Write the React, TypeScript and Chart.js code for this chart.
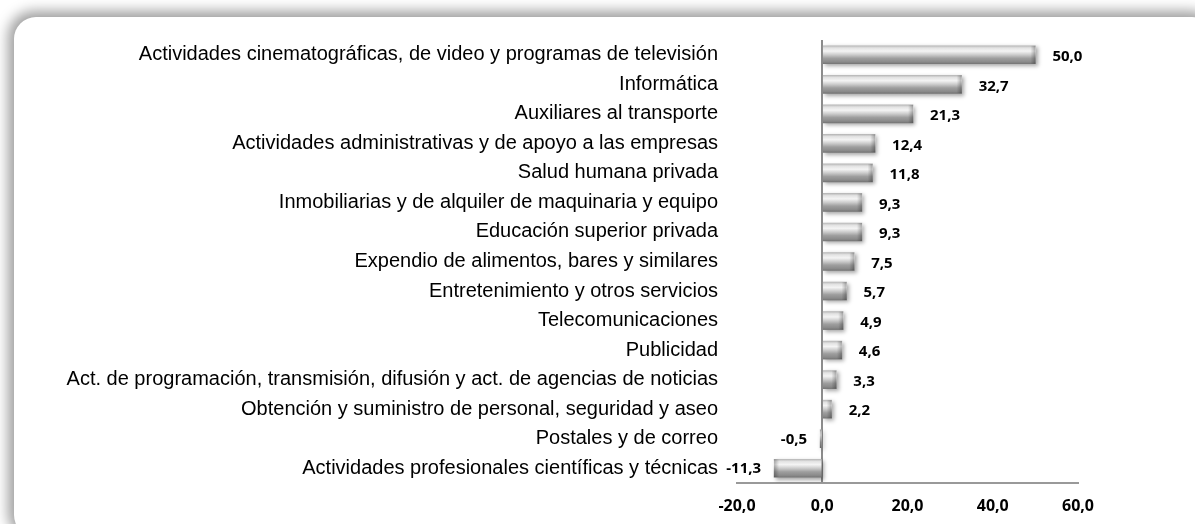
import React, { useEffect, useRef } from "react";
import { Chart, registerables } from "chart.js";

Chart.register(...registerables);

const categories: string[] = [
  "Actividades cinematográficas, de video y programas de televisión",
  "Informática",
  "Auxiliares al transporte",
  "Actividades administrativas y de apoyo a las empresas",
  "Salud humana privada",
  "Inmobiliarias y de alquiler de maquinaria y equipo",
  "Educación superior privada",
  "Expendio de alimentos, bares y similares",
  "Entretenimiento y otros servicios",
  "Telecomunicaciones",
  "Publicidad",
  "Act. de programación, transmisión, difusión y act. de agencias de noticias",
  "Obtención y suministro de personal, seguridad y aseo",
  "Postales y de correo",
  "Actividades profesionales científicas y técnicas",
];

const values: number[] = [50.0, 32.7, 21.3, 12.4, 11.8, 9.3, 9.3, 7.5, 5.7, 4.9, 4.6, 3.3, 2.2, -0.5, -11.3];

const xTicks: number[] = [-20, 0, 20, 40, 60];

const fmt = (v: number) => v.toFixed(1).replace(".", ",");

const BAR_H = 18;

const shadowPlugin = {
  id: "barShadow",
  beforeDatasetsDraw(chart: any) {
    const ctx = chart.ctx;
    ctx.save();
    ctx.shadowColor = "rgba(0,0,0,0.35)";
    ctx.shadowBlur = 4;
    ctx.shadowOffsetX = 2;
    ctx.shadowOffsetY = 2;
  },
  afterDatasetsDraw(chart: any) {
    const ctx = chart.ctx;
    ctx.restore();
    const meta = chart.getDatasetMeta(0);
    ctx.save();
    // bevel at the bar ends
    meta.data.forEach((bar: any) => {
      const w = Math.abs(bar.x - bar.base);
      const bw = Math.min(5, w);
      if (bw <= 0) return;
      const top = bar.y - BAR_H / 2;
      const dir = bar.x >= bar.base ? 1 : -1;
      const x0 = bar.x - dir * bw;
      const g = ctx.createLinearGradient(x0, 0, bar.x, 0);
      g.addColorStop(0, "rgba(0,0,0,0)");
      g.addColorStop(1, "rgba(0,0,0,0.28)");
      ctx.fillStyle = g;
      ctx.fillRect(Math.min(x0, bar.x), top, bw, BAR_H);
    });
    ctx.font = "bold 15px 'Open Sans'";
    ctx.fillStyle = "#000";
    ctx.textBaseline = "middle";
    meta.data.forEach((bar: any, i: number) => {
      const v = values[i];
      const txt = fmt(v);
      if (v >= 0) {
        ctx.textAlign = "left";
        ctx.fillText(txt, bar.x + 17, bar.y + 2);
      } else {
        ctx.textAlign = "right";
        ctx.fillText(txt, bar.x - 13, bar.y + 1);
      }
    });
    ctx.restore();
  },
};

export default function App() {
  const canvasRef = useRef<HTMLCanvasElement | null>(null);

  useEffect(() => {
    if (!canvasRef.current) return;
    const chart = new Chart(canvasRef.current, {
      type: "bar",
      data: {
        labels: categories,
        datasets: [
          {
            data: values,
            barThickness: BAR_H,
            borderWidth: 0,
            backgroundColor: (c: any) => {
              const ch = c.chart;
              const ys = ch.scales && ch.scales.y;
              if (!ys || c.dataIndex === undefined) return "#b0b0b0";
              const yc = ys.getPixelForValue(c.dataIndex);
              if (!Number.isFinite(yc)) return "#b0b0b0";
              const g = ch.ctx.createLinearGradient(0, yc - BAR_H / 2, 0, yc + BAR_H / 2);
              g.addColorStop(0, "#b8b8b8");
              g.addColorStop(0.12, "#e2e2e2");
              g.addColorStop(0.3, "#f4f4f4");
              g.addColorStop(0.5, "#cccccc");
              g.addColorStop(0.7, "#9e9e9e");
              g.addColorStop(0.9, "#8a8a8a");
              g.addColorStop(1, "#767676");
              return g;
            },
          },
        ],
      },
      options: {
        indexAxis: "y",
        responsive: false,
        animation: false,
        devicePixelRatio: 1,
        layout: { padding: { left: 0, right: 117, top: 40, bottom: 0 } },
        plugins: {
          legend: { display: false },
          tooltip: { enabled: false },
        },
        scales: {
          x: {
            min: -20,
            max: 60,
            afterBuildTicks: (s: any) => {
              s.ticks = xTicks.map((v) => ({ value: v }));
            },
            afterFit: (s: any) => {
              s.height = 41;
            },
            grid: {
              drawTicks: false,
              color: (c: any) => (c.tick && c.tick.value === 0 ? "#8c8c8c" : "rgba(0,0,0,0)"),
              lineWidth: 2,
            },
            border: { display: true, color: "#999999", width: 2 },
            ticks: {
              padding: 14,
              color: "#000",
              font: { family: "'Open Sans'", size: 16, weight: "bold" },
              callback: (v: any) => fmt(Number(v)),
            },
          },
          y: {
            afterFit: (s: any) => {
              s.width = 737;
            },
            grid: { display: false, drawTicks: false },
            border: { display: false },
            ticks: {
              padding: 19,
              color: "#000",
              autoSkip: false,
              font: { family: "'Liberation Sans'", size: 20 },
            },
          },
        },
      },
      plugins: [shadowPlugin],
    } as any);
    return () => chart.destroy();
  }, []);

  return (
    <div
      style={{
        position: "absolute",
        left: 0,
        top: 0,
        width: 1195,
        height: 524,
        overflow: "hidden",
        background: "#fff",
      }}
    >
      <div
        style={{
          position: "absolute",
          left: 14,
          top: 17,
          width: 1200,
          height: 520,
          borderRadius: 22,
          background: "#fff",
          boxShadow: "-2px -2px 13px 4px rgba(0,0,0,0.38)",
        }}
      />
      <canvas
        ref={canvasRef}
        width={1195}
        height={524}
        style={{ position: "absolute", left: 0, top: 0, width: 1195, height: 524 }}
      />
    </div>
  );
}
